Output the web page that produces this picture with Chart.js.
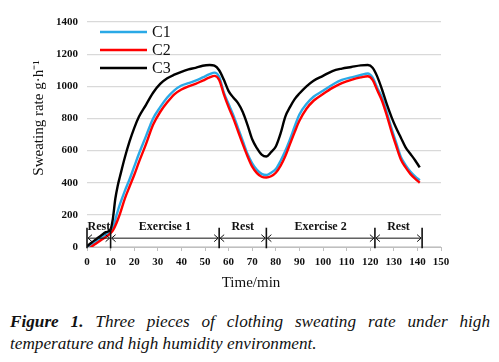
<!DOCTYPE html>
<html lang="en">
<head>
  <meta charset="UTF-8">
  <title>Sweating rate</title>
  <script src="https://cdn.jsdelivr.net/npm/chart.js@4.3.0/dist/chart.umd.min.js"></script>
  <style>
    body { margin: 0; background: #fff; }
    #wrap { position: relative; width: 499px; height: 362px; }
    #box { position: absolute; left: 0; top: 0; width: 499px; height: 295px; }
    #caption {
      position: absolute; left: 10px; top: 311px; width: 480px;
      font-family: "Liberation Serif", serif; font-style: italic; font-size: 17.2px;
      line-height: 22px; text-align: justify; color: #111;
    }
  </style>
</head>
<body>
  <div id="wrap">
    <div id="box"><canvas id="chart"></canvas></div>
    <div id="caption"><b>Figure 1.</b> Three pieces of clothing sweating rate under high temperature and high humidity environment.</div>
  </div>

  <script>
    // time in minutes, shared by all three curves
    const times = [0, 2, 4, 6, 8, 10, 11, 12, 13, 14, 16, 18, 20, 22, 25, 28, 31, 34, 37, 40, 43, 46, 49, 52, 54, 56, 58, 60, 62, 64, 66, 68, 70, 72, 74, 76, 78, 80, 82, 84, 86, 88, 90, 93, 96, 100, 104, 108, 112, 116, 119, 121, 123, 125, 127, 129, 131, 133, 135, 137, 139, 141];
    const c1 = [0, 18, 38, 58, 78, 97, 117, 170, 222, 268, 348, 420, 500, 580, 690, 800, 870, 930, 975, 1005, 1020, 1035, 1055, 1075, 1085, 1060, 960, 890, 820, 740, 660, 580, 520, 480, 455, 448, 462, 485, 535, 597, 670, 750, 825, 890, 935, 972, 1010, 1040, 1055, 1070, 1080, 1055, 990, 930, 840, 740, 650, 560, 510, 470, 440, 415];
    const c2 = [-18, 3, 23, 43, 63, 87, 103, 132, 168, 208, 300, 375, 448, 528, 640, 760, 840, 900, 950, 980, 1000, 1015, 1035, 1055, 1065, 1040, 950, 870, 800, 720, 640, 565, 500, 460, 437, 432, 440, 462, 505, 565, 640, 715, 785, 860, 910, 952, 990, 1020, 1040, 1055, 1062, 1040, 975, 910, 820, 720, 630, 545, 495, 455, 425, 400];
    const c3 = [5, 28, 50, 72, 92, 110, 180, 300, 380, 440, 555, 655, 740, 810, 885, 960, 1015, 1050, 1072, 1090, 1105, 1115, 1128, 1132, 1128, 1100, 1040, 970, 930, 895, 840, 760, 670, 615, 575, 563, 590, 625, 705, 810, 870, 920, 955, 1000, 1035, 1065, 1095, 1110, 1120, 1130, 1132, 1115, 1060, 980, 890, 810, 740, 680, 620, 580, 540, 495];

    // stray marker near the x axis
    const strayX = [60];
    const strayY = [-55];

    // phase bars along the bottom
    const phaseEdges = [0, 10, 56, 76, 122, 142];
    const phaseNames = ['Rest', 'Exercise 1', 'Rest', 'Exercise 2', 'Rest'];

    const seriesNames = ['C1', 'C2', 'C3'];
    const seriesColors = ['#2aa9e6', '#ff0000', '#000000'];

    const toPoints = (ys) => times.map((t, i) => ({ x: t, y: ys[i] }));

    const serif = '"Liberation Serif", "Times New Roman", serif';

    function arrowHead(ctx, x, y, dir) {
      ctx.beginPath();
      ctx.moveTo(x - dir * 4, y - 3.5);
      ctx.lineTo(x, y);
      ctx.lineTo(x - dir * 4, y + 3.5);
      ctx.stroke();
    }

    const extras = {
      id: 'extras',
      afterDatasetsDraw(chart) {
        const { ctx, scales: { x, y } } = chart;
        ctx.save();

        // phases
        ctx.strokeStyle = '#111';
        ctx.fillStyle = '#111';
        const arrowY = y.getPixelForValue(55);
        const barTop = y.getPixelForValue(120);
        const barBot = y.getPixelForValue(-8);
        ctx.lineWidth = 1.6;
        phaseEdges.forEach(t => {
          const px = x.getPixelForValue(t);
          ctx.beginPath();
          ctx.moveTo(px, barTop);
          ctx.lineTo(px, barBot);
          ctx.stroke();
        });
        ctx.lineWidth = 1;
        ctx.font = 'bold 12px ' + serif;
        ctx.textAlign = 'center';
        ctx.textBaseline = 'middle';
        phaseNames.forEach((name, i) => {
          const a = x.getPixelForValue(phaseEdges[i]) + 1;
          const b = x.getPixelForValue(phaseEdges[i + 1]) - 1;
          ctx.beginPath();
          ctx.moveTo(a, arrowY);
          ctx.lineTo(b, arrowY);
          ctx.stroke();
          arrowHead(ctx, a, arrowY, -1);
          arrowHead(ctx, b, arrowY, 1);
          ctx.fillText(name, (a + b) / 2, y.getPixelForValue(125));
        });

        // legend
        ctx.font = '16px ' + serif;
        ctx.textAlign = 'left';
        seriesNames.forEach((name, i) => {
          const ly = 32 + i * 18;
          ctx.strokeStyle = seriesColors[i];
          ctx.lineWidth = 2.5;
          ctx.beginPath();
          ctx.moveTo(100, ly);
          ctx.lineTo(147, ly);
          ctx.stroke();
          ctx.fillStyle = '#111';
          ctx.fillText(name, 152, ly + 1);
        });

        // axis titles
        ctx.fillStyle = '#111';
        ctx.font = '15px ' + serif;
        ctx.textAlign = 'center';
        ctx.fillText('Time/min', 251, 283);
        ctx.translate(39, 118);
        ctx.rotate(-Math.PI / 2);
        ctx.font = '15px ' + serif;
        ctx.fillText('Sweating rate g\u00b7h\u207b\u00b9', 0, 0);
        ctx.restore();
      }
    };

    const lineSet = (i, ys, order) => ({
      label: seriesNames[i],
      data: toPoints(ys),
      borderColor: seriesColors[i],
      borderWidth: 2.4,
      pointRadius: 0,
      cubicInterpolationMode: 'monotone',
      order: order
    });

    new Chart(document.getElementById('chart'), {
      type: 'line',
      data: {
        datasets: [
          lineSet(0, c1, 3),
          lineSet(1, c2, 2),
          lineSet(2, c3, 1),
          {
            type: 'scatter',
            data: strayX.map((t, i) => ({ x: t, y: strayY[i] })),
            backgroundColor: '#4a7fc1',
            borderColor: '#4a7fc1',
            pointStyle: 'rectRot',
            pointRadius: 2,
            clip: false,
            order: 0
          }
        ]
      },
      options: {
        responsive: true,
        maintainAspectRatio: false,
        animation: false,
        layout: { padding: { top: 22, right: 58, left: 0, bottom: 0 } },
        plugins: { legend: { display: false }, tooltip: { enabled: false } },
        scales: {
          x: {
            type: 'linear',
            min: 0,
            max: 150,
            afterFit: s => { s.height = 48; },
            ticks: {
              stepSize: 10,
              autoSkip: false,
              maxRotation: 0,
              padding: 5,
              color: '#111',
              callback: v => String(v),
              font: { family: serif, size: 11, weight: 'bold' }
            },
            grid: { drawOnChartArea: false, drawTicks: true, tickLength: 4, color: '#bfbfbf' },
            border: { color: '#bfbfbf' }
          },
          y: {
            min: 0,
            max: 1400,
            afterFit: s => { s.width = 87; },
            ticks: {
              stepSize: 200,
              padding: 9,
              color: '#111',
              callback: v => String(v),
              font: { family: serif, size: 11, weight: 'bold' }
            },
            grid: { color: '#d9d9d9', lineWidth: 1.2, drawTicks: false },
            border: { display: false }
          }
        }
      },
      plugins: [extras]
    });
  </script>
</body>
</html>
